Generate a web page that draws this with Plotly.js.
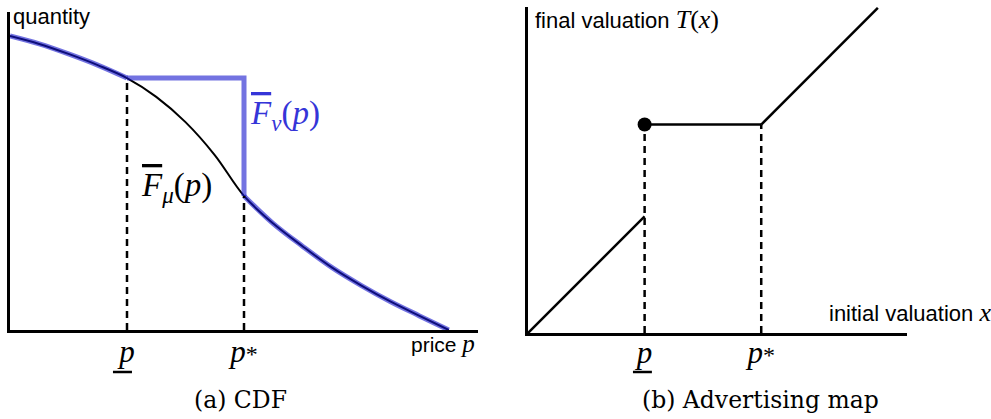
<!DOCTYPE html>
<html>
<head>
<meta charset="utf-8">
<script src="https://cdn.plot.ly/plotly-3.0.1.min.js"></script>
<style>html,body{margin:0;padding:0;background:#fff;}#chart{width:991px;height:419px;}</style>
</head>
<body>
<div id="chart"></div>
<script>
// ---- Panel (a): CDF ----
const price = [0, 1, 2, 3, 4, 5, 6, 7, 8, 9, 10, 11, 12, 13, 14, 15];
const quantityMu = [1.00, 0.973, 0.939, 0.901, 0.857, 0.793, 0.707, 0.595, 0.456, 0.362, 0.285, 0.213, 0.152, 0.097, 0.048, 0.0];
const pLow = 4;
const pStar = 8;
const tickLabels = ['<i>p</i>', '<i>p</i><span style="font-size:24px">*</span>'];

// ---- Panel (b): Advertising map ----
const initialLow = [0, 4];
const finalLow = [0, 4];
const initialMid = [4, 8];
const finalMid = [7.15, 7.15];
const initialHigh = [8, 12];
const finalHigh = [7.15, 11.15];
const dotX = [4];
const dotY = [7.15];

const iLow = price.indexOf(pLow);
const iStar = price.indexOf(pStar);
const qLow = quantityMu[iLow];
const qStar = quantityMu[iStar];

const blueCol = 'rgba(22,22,205,0.6)';
const dash = '7px,5px';
const mathFont = 'Liberation Serif';

const traces = [
  {x: price, y: quantityMu, xaxis: 'x', yaxis: 'y', mode: 'lines',
   line: {color: '#000', width: 2, shape: 'spline', smoothing: 1}},
  {x: price.slice(0, iLow + 1), y: quantityMu.slice(0, iLow + 1), xaxis: 'x', yaxis: 'y', mode: 'lines',
   line: {color: blueCol, width: 5, shape: 'spline', smoothing: 1}},
  {x: [pLow, pStar, pStar], y: [qLow, qLow, qStar], xaxis: 'x', yaxis: 'y', mode: 'lines',
   line: {color: blueCol, width: 5}},
  {x: price.slice(iStar), y: quantityMu.slice(iStar), xaxis: 'x', yaxis: 'y', mode: 'lines',
   line: {color: blueCol, width: 5, shape: 'spline', smoothing: 1}},
  {x: [pLow, pLow, null, pStar, pStar], y: [0, qLow, null, 0, qStar], xaxis: 'x', yaxis: 'y', mode: 'lines',
   line: {color: '#000', width: 2.5, dash: dash}},

  {x: [initialMid[0], initialMid[0], null, initialMid[1], initialMid[1]], y: [0, finalMid[0], null, 0, finalMid[1]],
   xaxis: 'x2', yaxis: 'y2', mode: 'lines', line: {color: '#000', width: 2.5, dash: dash}},
  {x: initialLow.concat([null], initialMid, [null], initialHigh),
   y: finalLow.concat([null], finalMid, [null], finalHigh),
   xaxis: 'x2', yaxis: 'y2', mode: 'lines', connectgaps: false,
   line: {color: '#000', width: 2.5}},
  {x: dotX, y: dotY, xaxis: 'x2', yaxis: 'y2', mode: 'markers',
   marker: {color: '#000', size: 14}, cliponaxis: false}
];

const H = 419, W = 991;
const py = v => (H - v) / H;
const px = v => v / W;

const axisCommon = {showgrid: false, zeroline: false, showline: true, linecolor: '#000', linewidth: 2.5,
  ticks: '', fixedrange: true};
const tickFont = {family: mathFont, size: 31, color: '#000'};
const subStyle = 'font-size:23px;font-style:italic;baseline-shift:-7px';

const layout = {
  width: W, height: H,
  margin: {l: 0, r: 0, t: 0, b: 0},
  paper_bgcolor: '#fff', plot_bgcolor: 'rgba(0,0,0,0)',
  showlegend: false,
  xaxis: Object.assign({}, axisCommon, {domain: [px(10), px(478)], range: [0, 16], anchor: 'y',
    tickvals: [pLow, pStar], ticktext: tickLabels, tickfont: tickFont, ticklabelstandoff: -8}),
  yaxis: Object.assign({}, axisCommon, {domain: [py(330), py(12)], range: [0, 1.0816], anchor: 'x',
    showticklabels: false}),
  xaxis2: Object.assign({}, axisCommon, {domain: [px(528), px(907)], range: [0, 13], anchor: 'y2',
    tickvals: [initialMid[0], initialMid[1]], ticktext: tickLabels, tickfont: tickFont, ticklabelstandoff: -10}),
  yaxis2: Object.assign({}, axisCommon, {domain: [py(333), py(7)], range: [0, 11.18], anchor: 'x2',
    showticklabels: false}),
  shapes: [
    {type: 'line', xref: 'x', yref: 'paper', x0: 3.52, x1: 4.17, y0: py(372), y1: py(372),
     line: {color: '#000', width: 2.5}},
    {type: 'line', xref: 'x2', yref: 'paper', x0: 3.6, x1: 4.25, y0: py(372), y1: py(372),
     line: {color: '#000', width: 2.5}}
  ],
  annotations: [
    {text: 'quantity', xref: 'paper', yref: 'paper', x: px(11), y: py(17), xanchor: 'left', yanchor: 'middle',
     showarrow: false, font: {family: 'Liberation Sans', size: 22, color: '#000'}},
    {text: 'price <span style="font-family:Liberation Serif;font-style:italic;font-size:25px">p</span>', xref: 'paper', yref: 'paper',
     x: px(477), y: py(343), xanchor: 'right', yanchor: 'middle',
     showarrow: false, font: {family: 'Liberation Sans', size: 21, color: '#000'}},
    {text: '<i><span style="text-decoration:overline">F</span></i><span style="' + subStyle + '">ν</span>(<i>p</i>)', xref: 'paper', yref: 'paper',
     x: px(248), y: py(116), xanchor: 'left', yanchor: 'middle',
     showarrow: false, font: {family: mathFont, size: 33, color: '#3535d8'}},
    {text: '<i><span style="text-decoration:overline">F</span></i><span style="' + subStyle + '">μ</span>(<i>p</i>)', xref: 'paper', yref: 'paper',
     x: px(139), y: py(187), xanchor: 'left', yanchor: 'middle',
     showarrow: false, font: {family: mathFont, size: 33, color: '#000'}},
    {text: 'final valuation <span style="font-family:Liberation Serif;font-style:italic;font-size:26px">T</span><span style="font-family:Liberation Serif;font-size:26px">(</span><span style="font-family:Liberation Serif;font-style:italic;font-size:26px">x</span><span style="font-family:Liberation Serif;font-size:26px">)</span>',
     xref: 'paper', yref: 'paper', x: px(533), y: py(19), xanchor: 'left', yanchor: 'middle',
     showarrow: false, font: {family: 'Liberation Sans', size: 22, color: '#000'}},
    {text: 'initial valuation <span style="font-family:Liberation Serif;font-style:italic;font-size:26px">x</span>',
     xref: 'paper', yref: 'paper', x: px(827), y: py(312), xanchor: 'left', yanchor: 'middle',
     showarrow: false, font: {family: 'Liberation Sans', size: 22, color: '#000'}},
    {text: '(a) CDF', xref: 'paper', yref: 'paper', x: px(240), y: py(400), xanchor: 'center', yanchor: 'middle',
     showarrow: false, font: {family: 'DejaVu Serif', size: 23.5, color: '#000'}},
    {text: '(b) Advertising map', xref: 'paper', yref: 'paper', x: px(760), y: py(400), xanchor: 'center', yanchor: 'middle',
     showarrow: false, font: {family: 'DejaVu Serif', size: 23.5, color: '#000'}}
  ]
};

Plotly.newPlot('chart', traces, layout, {displayModeBar: false});
</script>
</body>
</html>
